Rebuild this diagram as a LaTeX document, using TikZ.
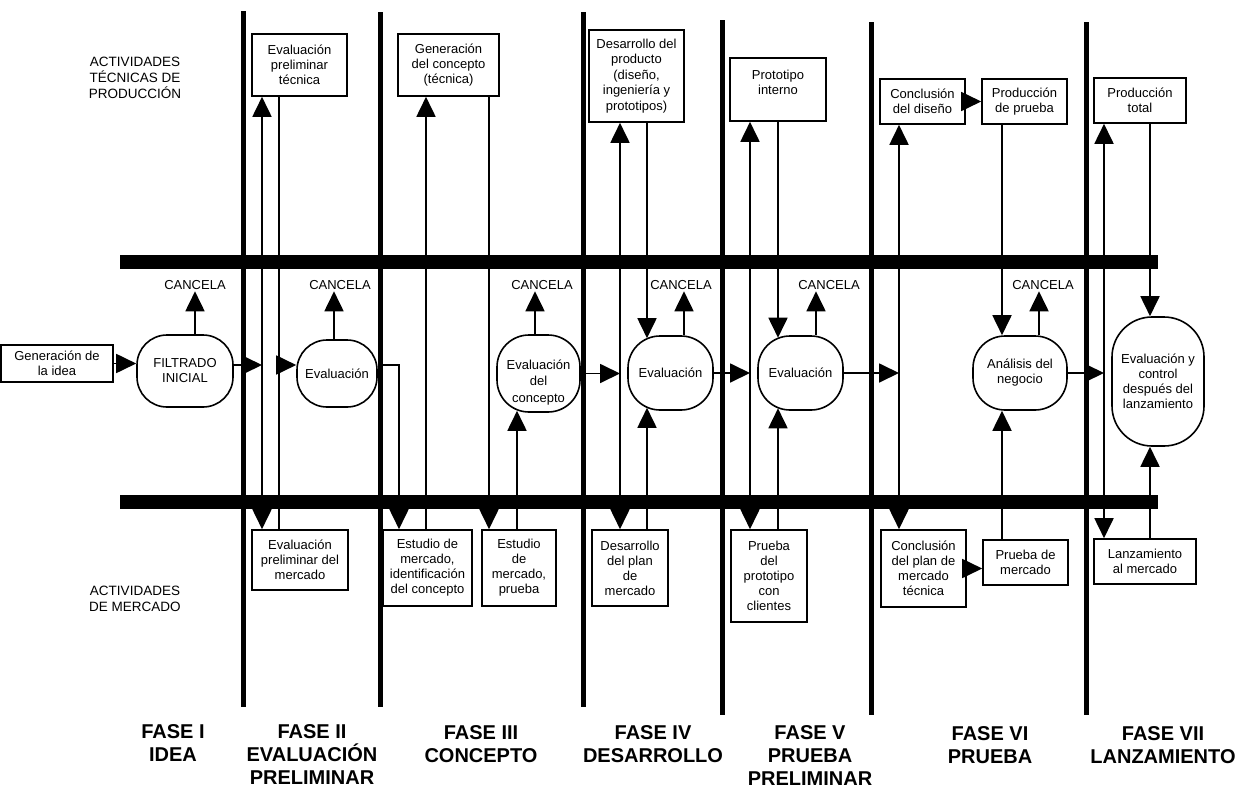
\documentclass[tikz,border=0pt]{standalone}
\usepackage{fontspec}
\setmainfont{Liberation Sans}
\usetikzlibrary{arrows.meta,calc}
\begin{document}
\begin{tikzpicture}[x=1pt,y=-1pt,
  >={Triangle[length=20pt,width=19pt]},
  txt/.style={font=\fontsize{13}{15}\selectfont, align=center, inner sep=1pt},
  box/.style={txt, draw, line width=1.6pt},
  rbox/.style={box, rounded corners=32pt},
  conn/.style={line width=1.8pt},
  phase/.style={line width=5pt},
  lbl/.style={font=\fontsize{13.5}{16}\selectfont, align=center},
  phaselbl/.style={font=\bfseries\fontsize{20}{23}\selectfont, align=center},
  cancel/.style={font=\fontsize{13}{15}\selectfont, inner sep=1.5pt}]
\useasboundingbox (0,0) rectangle (1252,795);

% phase separators
\draw[phase] (243,11) -- (243,707);
\draw[phase] (380,12) -- (380,707);
\draw[phase] (583,12) -- (583,707);
\draw[phase] (722,20) -- (722,715);
\draw[phase] (871,22) -- (871,715);
\draw[phase] (1086,22) -- (1086,715);

% horizontal bars
\fill (120,255) rectangle (1158,269);
\fill (120,495) rectangle (1158,509);

% row labels
\node[lbl] (rowtec) at (135,78) {ACTIVIDADES\\TÉCNICAS DE\\PRODUCCIÓN};
\node[lbl] (rowmer) at (135,598.5) {ACTIVIDADES\\DE MERCADO};

% technical boxes
\node[box, minimum width=95, minimum height=62] (b1) at (299.5,65) {Evaluación\\preliminar\\técnica};
\node[box, minimum width=101, minimum height=62] (b2) at (448.5,65) {Generación\\del concepto\\(técnica)};
\node[box, font=\fontsize{13}{15.5}\selectfont, minimum width=95, minimum height=92] (b3) at (636.5,76) {Desarrollo del\\producto\\(diseño,\\ingeniería y\\prototipos)};
\node[box, minimum width=96, minimum height=63] (b4) at (778,89.5) {Prototipo\\interno\\\mbox{}};
\node[box, minimum width=85, minimum height=45] (b5) at (922.5,101.5) {Conclusión\\del diseño};
\node[box, minimum width=85, minimum height=45] (b6) at (1024.5,101.5) {Producción\\de prueba};
\node[box, minimum width=92, minimum height=45] (b7) at (1140,100.5) {Producción\\total};

% market boxes
\node[box, minimum width=96, minimum height=60] (m1) at (300,560) {Evaluación\\preliminar del\\mercado};
\node[box, minimum width=89, minimum height=76] (m2) at (427.5,568) {Estudio de\\mercado,\\identificación\\del concepto};
\node[box, minimum width=74, minimum height=76] (m3) at (519,568) {Estudio\\de\\mercado,\\prueba};
\node[box, minimum width=76, minimum height=76] (m4) at (630,568) {Desarrollo\\del plan\\de\\mercado};
\node[box, minimum width=76, minimum height=92] (m5) at (769,576) {Prueba\\del\\prototipo\\con\\clientes};
\node[box, minimum width=85, minimum height=77] (m6) at (923.5,568.5) {Conclusión\\del plan de\\mercado\\técnica};
\node[box, minimum width=85, minimum height=45] (m7) at (1025.5,562.5) {Prueba de\\mercado};
\node[box, minimum width=102, minimum height=45] (m8) at (1145,561.5) {Lanzamiento\\al mercado};

% middle row
\node[box, minimum width=112, minimum height=37] (idea) at (57,363.5) {Generación de\\la idea};
\node[rbox, rounded corners=30pt, minimum width=96, minimum height=72] (filt) at (185,371) {FILTRADO\\INICIAL};
\node[rbox, rounded corners=30pt, minimum width=80, minimum height=67] (ev2) at (337,373.5) {Evaluación};
\node[rbox, minimum width=83, minimum height=77] (evc) at (538.5,373.5) {};
\node[txt, font=\fontsize{13}{16.5}\selectfont, yshift=-9pt] (evct) at (evc.center) {Evaluación\\del\\concepto};
\node[rbox, minimum width=85, minimum height=74] (ev4) at (670.5,373) {Evaluación};
\node[rbox, minimum width=85, minimum height=74] (ev5) at (800.5,373) {Evaluación};
\node[rbox, minimum width=94, minimum height=74] (anal) at (1020,373) {Análisis del\\negocio};
\node[rbox, rounded corners=40pt, minimum width=92, minimum height=129] (ev7) at (1158,381.5) {Evaluación y\\control\\después del\\lanzamiento};

% CANCELA labels
\node[cancel] (c1) at (195,285) {CANCELA};
\node[cancel] (c2) at (340,285) {CANCELA};
\node[cancel] (c3) at (542,285) {CANCELA};
\node[cancel] (c4) at (681,285) {CANCELA};
\node[cancel] (c5) at (829,285) {CANCELA};
\node[cancel] (c6) at (1043,285) {CANCELA};

% phase labels
\node[phaselbl] (p1) at (173,743) {FASE I\\IDEA};
\node[phaselbl] (p2) at (312,755) {FASE II\\EVALUACIÓN\\PRELIMINAR};
\node[phaselbl] (p3) at (481,744) {FASE III\\CONCEPTO};
\node[phaselbl] (p4) at (653,744.5) {FASE IV\\DESARROLLO};
\node[phaselbl] (p5) at (810,756) {FASE V\\PRUEBA\\PRELIMINAR};
\node[phaselbl] (p6) at (990,745.5) {FASE VI\\PRUEBA};
\node[phaselbl] (p7) at (1163,745.5) {FASE VII\\LANZAMIENTO};

% connector x positions
\coordinate (v2a) at (262,0);
\coordinate (v2b) at (279,0);
\coordinate (v3a) at (399,0);
\coordinate (v3b) at (426,0);
\coordinate (v3c) at (489,0);
\coordinate (v3d) at (517,0);
\coordinate (v4a) at (620,0);
\coordinate (v4b) at (647,0);
\coordinate (v5a) at (750,0);
\coordinate (v5b) at (778,0);
\coordinate (v6a) at (899,0);
\coordinate (v6b) at (1002,0);
\coordinate (v7a) at (1104,0);
\coordinate (v7b) at (1150,0);
\coordinate (rowA) at (0,365);
\coordinate (k1) at (195,0);
\coordinate (k2) at (334,0);
\coordinate (k3) at (535,0);
\coordinate (k4) at (684,0);
\coordinate (k5) at (816,0);
\coordinate (k6) at (1039,0);

% phase I-II
\draw[conn,->] (idea.east) -- (idea.east -| filt.west);
\draw[conn,->] (filt.east |- rowA) -- (v2a |- rowA);
\draw[conn,->] (v2b |- rowA) -- (ev2.west |- rowA);
\draw[conn,<->] (m1.north -| v2a) -- (b1.south -| v2a);
\draw[conn] (b1.south -| v2b) -- (m1.north -| v2b);
% phase III
\draw[conn,->] (ev2.east |- rowA) -- (v3a |- rowA) -- (m2.north -| v3a);
\draw[conn,->] (m2.north -| v3b) -- (b2.south -| v3b);
\draw[conn,->] (b2.south -| v3c) -- (m3.north -| v3c);
\draw[conn,->] (m3.north -| v3d) -- ($(evc.south -| v3d)+(0,-2)$);
% phase IV
\draw[conn,->] (evc.east) -- (evc.east -| v4a);
\draw[conn,<->] (m4.north -| v4a) -- (b3.south -| v4a);
\draw[conn,->] (b3.south -| v4b) -- ($(ev4.north -| v4b)+(0,3)$);
\draw[conn,->] (m4.north -| v4b) -- ($(ev4.south -| v4b)+(0,-3)$);
% phase V
\draw[conn,->] (ev4.east) -- (ev4.east -| v5a);
\draw[conn,<->] (m5.north -| v5a) -- (b4.south -| v5a);
\draw[conn,->] (b4.south -| v5b) -- ($(ev5.north -| v5b)+(0,2.5)$);
\draw[conn,->] (m5.north -| v5b) -- ($(ev5.south -| v5b)+(0,-2.5)$);
% phase VI
\draw[conn,->] (ev5.east) -- (ev5.east -| v6a);
\draw[conn,<->] (m6.north -| v6a) -- (b5.south -| v6a);
\draw[conn,->] (b5.east) -- (b5.east -| b6.west);
\draw[conn,->] (m6.east) -- (m6.east -| m7.west);
\draw[conn,->] (b6.south -| v6b) -- (anal.north -| v6b);
\draw[conn,->] (m7.north -| v6b) -- (anal.south -| v6b);
% phase VII
\draw[conn,->] (anal.east) -- (anal.east -| v7a);
\draw[conn,<->] (m8.north -| v7a) -- (b7.south -| v7a);
\draw[conn,->] (b7.south -| v7b) -- (ev7.north -| v7b);
\draw[conn,->] (m8.north -| v7b) -- (ev7.south -| v7b);

% cancel arrows
\draw[conn,->] (filt.north -| k1) -- (c1.south -| k1);
\draw[conn,->] (ev2.north -| k2) -- (c2.south -| k2);
\draw[conn,->] (evc.north -| k3) -- (c3.south -| k3);
\draw[conn,->] (ev4.north -| k4) -- (c4.south -| k4);
\draw[conn,->] (ev5.north -| k5) -- (c5.south -| k5);
\draw[conn,->] (anal.north -| k6) -- (c6.south -| k6);
\end{tikzpicture}
\end{document}
